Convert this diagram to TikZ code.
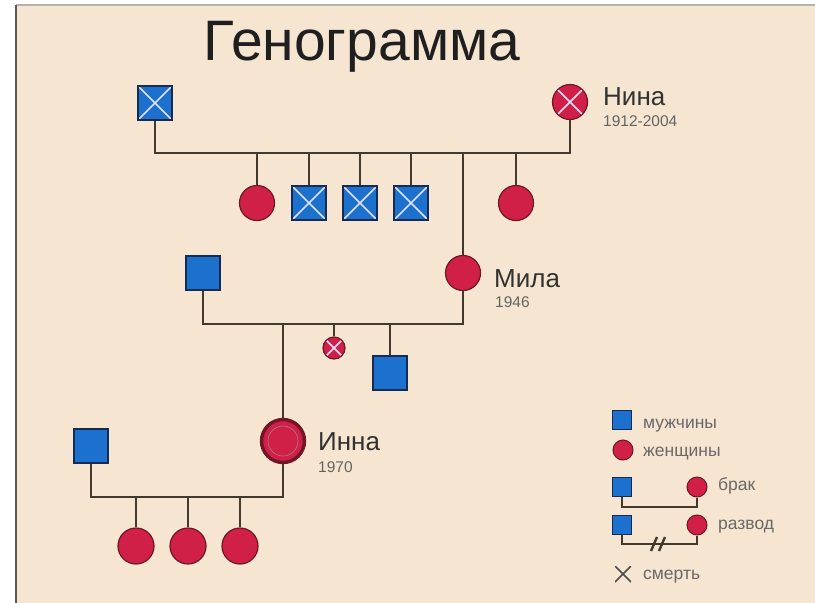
\documentclass[tikz,border=0pt]{standalone}
\usepackage{fontspec}
\setmainfont{Liberation Sans}
\definecolor{bgc}{RGB}{246,229,208}
\definecolor{malefill}{RGB}{28,112,206}
\definecolor{maleedge}{RGB}{22,42,82}
\definecolor{femfill}{RGB}{208,32,72}
\definecolor{femedge}{RGB}{112,22,38}
\definecolor{linkc}{RGB}{66,58,46}
\definecolor{namec}{RGB}{50,50,50}
\definecolor{yearc}{RGB}{100,100,100}
\definecolor{legc}{RGB}{105,105,105}
\begin{document}
\begin{tikzpicture}[x=1pt,y=-1pt,
  male/.style={rectangle, draw=maleedge, fill=malefill, line width=1.2pt, minimum size=34pt, inner sep=0pt},
  female/.style={circle, draw=femedge, fill=femfill, line width=1.2pt, minimum size=35pt, inner sep=0pt},
  dead/.style={path picture={\draw[white!88!blue, line width=1.5pt]
      (path picture bounding box.north west) -- (path picture bounding box.south east)
      (path picture bounding box.north east) -- (path picture bounding box.south west);}},
  link/.style={draw=linkc, line width=2.6pt},
  legline/.style={draw=linkc, line width=2.4pt},
  personname/.style={anchor=base west, text=namec, font=\fontsize{26}{26}\selectfont, inner sep=0pt},
  year/.style={anchor=base west, text=yearc, font=\fontsize{15.5}{15.5}\selectfont, inner sep=0pt},
  legtext/.style={anchor=base west, text=legc, font=\fontsize{17.5}{17.5}\selectfont, inner sep=0pt},
]
\useasboundingbox (0,0) rectangle (815,603);
% sheet
\fill[bgc] (16,5) rectangle (815,603);
\draw[black!30, line width=1.5pt] (16,5) -- (815,5);
\draw[black!65, line width=2pt] (16,5) -- (16,603);

% title
\node[anchor=base, text=black!88, font=\fontsize{57}{57}\selectfont, inner sep=0pt] (title) at (362,60) {Генограмма};

% first generation
\node[male,dead] (gf) at (155,103) {};
\node[female,dead] (nina) at (570,102) {};
\coordinate (u1) at (363,153);
\draw[link] (gf.south) |- (nina.south |- u1) -- (nina.south);
\node[personname] (ninaname) at (603,105) {Нина};
\node[year] (ninayear) at (603,126) {1912-2004};

% their children
\node[female] (c1) at (257,203) {};
\node[male,dead] (c2) at (309,203) {};
\node[male,dead] (c3) at (360,203) {};
\node[male,dead] (c4) at (411,203) {};
\node[female] (c5) at (516,203) {};
\node[female] (mila) at (463,273) {};
\foreach \c in {c1,c2,c3,c4,c5,mila}
  \draw[link] (\c.north) -- (\c.north |- u1);
\node[personname] (milaname) at (494,287) {Мила};
\node[year] (milayear) at (495,307) {1946};

% second generation
\node[male] (f2) at (203,273) {};
\coordinate (u2) at (330,324);
\draw[link] (f2.south) |- (mila.south |- u2) -- (mila.south);
\node[female,dead,minimum size=22pt] (d2) at (334,348) {};
\node[male] (s2) at (390,373) {};
\node[female, minimum size=43pt, line width=3.4pt] (inna) at (283,441) {};
\draw[femedge!60, line width=0.7pt] (inna.center) circle (15);
\foreach \c in {d2,s2,inna}
  \draw[link] (\c.north) -- (\c.north |- u2);
\node[personname] (innaname) at (318,450) {Инна};
\node[year] (innayear) at (318,472) {1970};

% third generation
\node[male] (h3) at (91,446) {};
\coordinate (u3) at (190,497);
\draw[link] (h3.south) |- (inna.south |- u3) -- (inna.south);
\node[female, minimum size=36pt] (g1) at (136,546) {};
\node[female, minimum size=36pt] (g2) at (188,546) {};
\node[female, minimum size=36pt] (g3) at (240,546) {};
\foreach \c in {g1,g2,g3}
  \draw[link] (\c.north) -- (\c.north |- u3);

% legend
\node[male, minimum size=19pt, line width=1pt] (lm) at (622,420) {};
\node[legtext] (lmt) at (643,428) {мужчины};
\node[female, minimum size=20pt, line width=1pt] (lf) at (623,450) {};
\node[legtext] (lft) at (643,456) {женщины};

\node[male, minimum size=19pt, line width=1pt] (lbm) at (622,487) {};
\node[female, minimum size=20pt, line width=1pt] (lbf) at (697,487) {};
\coordinate (lb) at (660,507);
\draw[legline] (lbm.south) |- (lbf.south |- lb) -- (lbf.south);
\node[legtext] (lbt) at (718,490) {брак};

\node[male, minimum size=19pt, line width=1pt] (lrm) at (622,525) {};
\node[female, minimum size=20pt, line width=1pt] (lrf) at (697,525) {};
\coordinate (lr) at (658,544);
\draw[legline] (lrm.south) |- (lrf.south |- lr) -- (lrf.south);
\draw[legline] ([shift={(-7,7)}]lr) -- ([shift={(-1,-7)}]lr);
\draw[legline] ([shift={(1,7)}]lr) -- ([shift={(7,-7)}]lr);
\node[legtext] (lrt) at (718,529) {развод};

\node[minimum size=16pt, inner sep=0pt, path picture={\draw[black!70, line width=1.6pt]
      (path picture bounding box.north west) -- (path picture bounding box.south east)
      (path picture bounding box.north east) -- (path picture bounding box.south west);}] (lx) at (623,574) {};
\node[legtext] (lxt) at (643,579) {смерть};
\end{tikzpicture}
\end{document}
